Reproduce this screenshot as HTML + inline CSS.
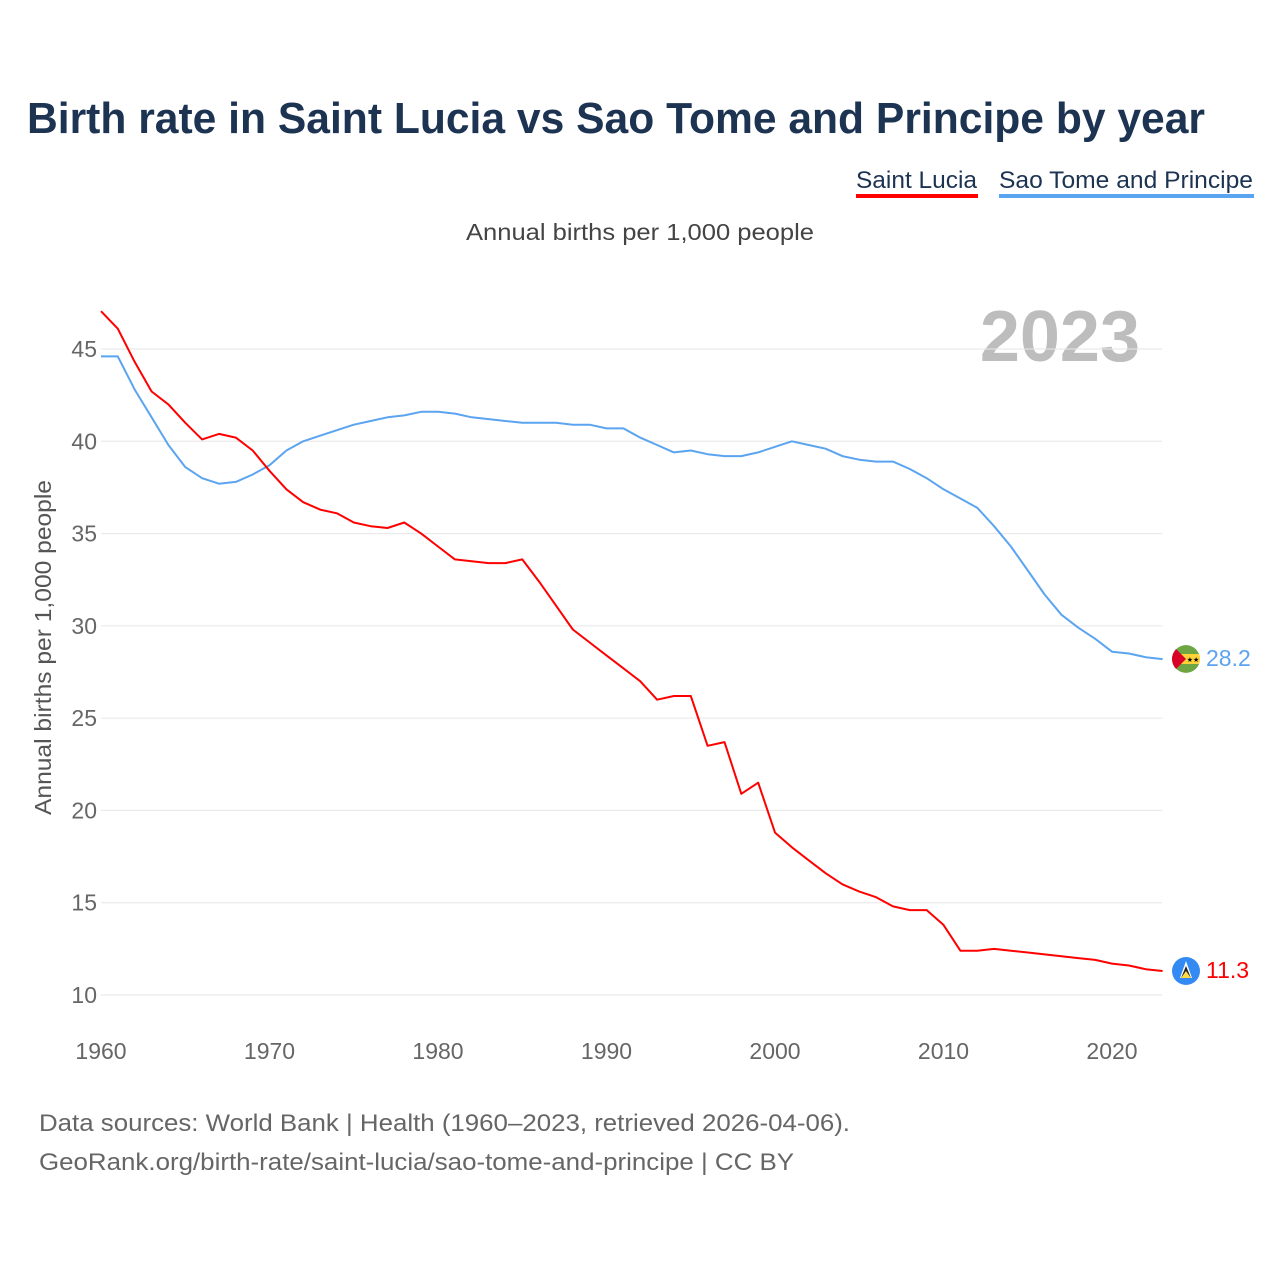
<!DOCTYPE html>
<html><head><meta charset="utf-8"><style>
body{margin:0;background:#fff;}
svg{display:block;font-family:"Liberation Sans",sans-serif;}
</style></head><body>
<svg id="chart" width="1280" height="1280" viewBox="0 0 1280 1280">
<defs><clipPath id="fc"><circle cx="1186" cy="659" r="14"/></clipPath></defs>
<text x="27" y="133" font-size="44" font-weight="bold" fill="#1c3352" textLength="1178" lengthAdjust="spacingAndGlyphs">Birth rate in Saint Lucia vs Sao Tome and Principe by year</text>
<g>
<text x="856" y="188" font-size="24" fill="#1c3352" textLength="121" lengthAdjust="spacingAndGlyphs">Saint Lucia</text>
<rect x="856" y="194" width="122" height="4" fill="#ff0000"/></g>
<g>
<text x="999" y="188" font-size="24" fill="#1c3352" textLength="254" lengthAdjust="spacingAndGlyphs">Sao Tome and Principe</text>
<rect x="999" y="194" width="255" height="4" fill="#5ba4f0"/></g>
<text x="466" y="240" font-size="23" fill="#444" textLength="348" lengthAdjust="spacingAndGlyphs">Annual births per 1,000 people</text>
<text x="1140" y="361" font-size="72" font-weight="bold" fill="#bdbdbd" text-anchor="end">2023</text>
<text transform="translate(51,815) rotate(-90)" font-size="23" fill="#555" textLength="335" lengthAdjust="spacingAndGlyphs">Annual births per 1,000 people</text>
<g id="grid"></g><g id="yticks"></g><g id="xticks"></g><g id="lines"></g>
<g clip-path="url(#fc)">
<circle cx="1186" cy="659" r="14" fill="#6ea644"/><rect x="1172" y="654" width="28" height="10" fill="#ffd23a"/>
<path d="M1172 645 L1186 659 L1172 673 Z" fill="#d80027"/><text x="1193" y="662" font-size="7" fill="#000" text-anchor="middle">★★</text></g>
<g>
<circle cx="1186" cy="971" r="14" fill="#338af3"/><path d="M1186 961 L1192 978 L1180 978 Z" fill="#fff"/><path d="M1186 966 L1191 978 L1181 978 Z" fill="#222"/><path d="M1186 971 L1191 978 L1181 978 Z" fill="#ffda44"/></g>
<text x="1206" y="666" font-size="23" fill="#5ba4f0">28.2</text>
<text x="1206" y="978" font-size="23" fill="#ff0000">11.3</text>
<text x="39" y="1131" font-size="24" fill="#666" textLength="811" lengthAdjust="spacingAndGlyphs">Data sources: World Bank | Health (1960–2023, retrieved 2026-04-06).</text>
<text x="39" y="1170" font-size="24" fill="#666" textLength="755" lengthAdjust="spacingAndGlyphs">GeoRank.org/birth-rate/saint-lucia/sao-tome-and-principe | CC BY</text>
</svg>
<script>
const years=[];for(let y=1960;y<=2023;y++)years.push(y);
const saintLucia=[47.05,46.1,44.3,42.7,42.0,41.0,40.1,40.4,40.2,39.5,38.4,37.4,36.7,36.3,36.1,35.6,35.4,35.3,35.6,35.0,34.3,33.6,33.5,33.4,33.4,33.6,32.4,31.1,29.8,29.1,28.4,27.7,27.0,26.0,26.2,26.2,23.5,23.7,20.9,21.5,18.8,18.0,17.3,16.6,16.0,15.6,15.3,14.8,14.6,14.6,13.8,12.4,12.4,12.5,12.4,12.3,12.2,12.1,12.0,11.9,11.7,11.6,11.4,11.3];
const saoTome=[44.6,44.6,42.8,41.3,39.8,38.6,38.0,37.7,37.8,38.2,38.7,39.5,40.0,40.3,40.6,40.9,41.1,41.3,41.4,41.6,41.6,41.5,41.3,41.2,41.1,41.0,41.0,41.0,40.9,40.9,40.7,40.7,40.2,39.8,39.4,39.5,39.3,39.2,39.2,39.4,39.7,40.0,39.8,39.6,39.2,39.0,38.9,38.9,38.5,38.0,37.4,36.9,36.4,35.4,34.3,33.0,31.7,30.6,29.9,29.3,28.6,28.5,28.3,28.2];
const yTicks=[10,15,20,25,30,35,40,45];
const xTicks=[1960,1970,1980,1990,2000,2010,2020];
const NS="http://www.w3.org/2000/svg";
const X=y=>101+(y-1960)*(1011/60);
const Y=v=>995-(v-10)*(646/35);
function mk(tag,attrs,parent,txt){const e=document.createElementNS(NS,tag);for(const k in attrs)e.setAttribute(k,attrs[k]);if(txt!==undefined)e.textContent=txt;document.getElementById(parent).appendChild(e);return e;}
yTicks.forEach(t=>{
const l=mk('line',{x1:101,x2:1162,y1:Y(t),y2:Y(t),stroke:'#e6e6e6','stroke-width':1},'grid');


const tx=mk('text',{x:97,y:Y(t)+8,'font-size':23,fill:'#666','text-anchor':'end'},'yticks',String(t));


});
xTicks.forEach(t=>{
const tx=mk('text',{x:X(t),y:1059,'font-size':23,fill:'#666','text-anchor':'middle'},'xticks',String(t));


});
function line(vals,color,name){
const d=vals.map((v,i)=>(i?'L':'M')+X(years[i]).toFixed(1)+' '+Y(v).toFixed(1)).join(' ');
const p=mk('path',{d:d,fill:'none',stroke:color,'stroke-width':2,'stroke-linejoin':'round'},'lines');


}
line(saoTome,'#5ba4f0','line-sao-tome');
line(saintLucia,'#ff0000','line-saint-lucia');
</script>
</body></html>
